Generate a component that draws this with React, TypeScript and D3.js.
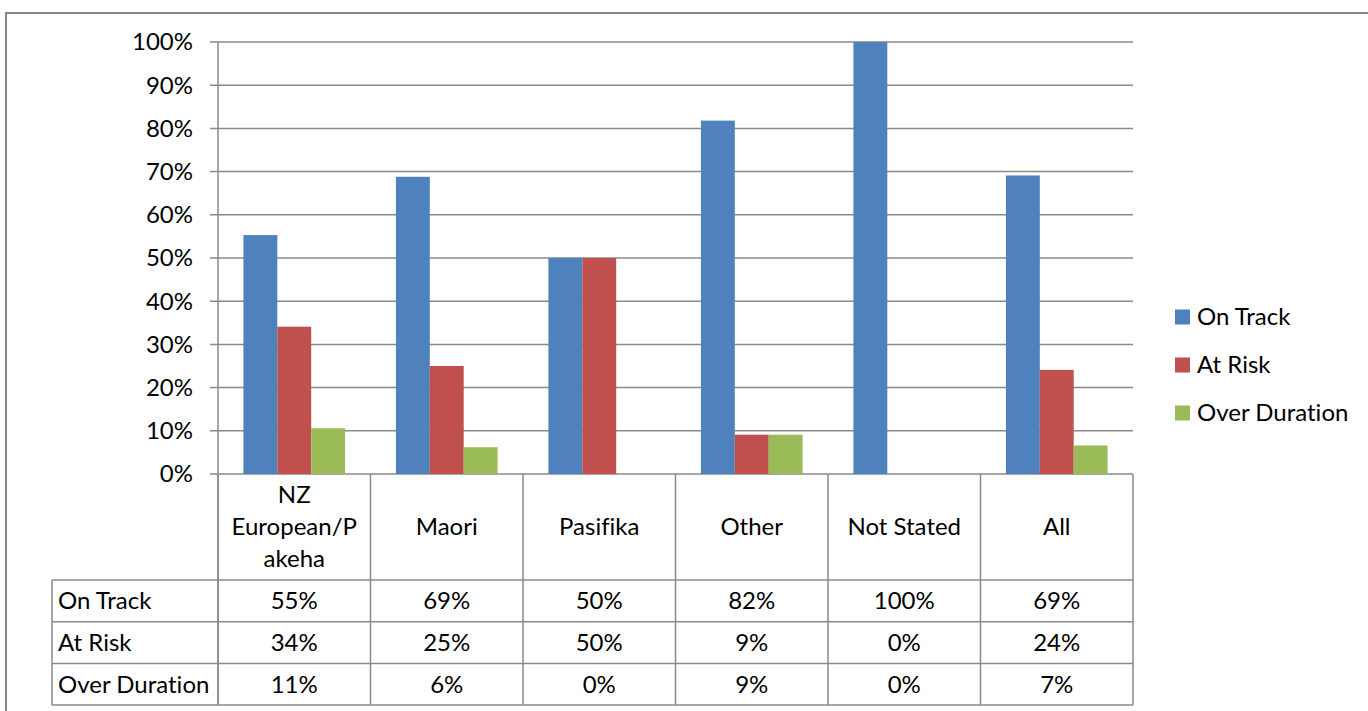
import React from "react";
import * as d3 from "d3";

// Categories and series
const categories: string[][] = [
  ["NZ", "European/P", "akeha"],
  ["Maori"],
  ["Pasifika"],
  ["Other"],
  ["Not Stated"],
  ["All"],
];
const seriesNames = ["On Track", "At Risk", "Over Duration"];
const seriesColors = ["#4F81BD", "#C0504D", "#9BBB59"];
const onTrack = [0.553, 0.688, 0.5, 0.818, 1.0, 0.691];
const atRisk = [0.341, 0.25, 0.5, 0.091, 0, 0.241];
const overDuration = [0.106, 0.062, 0, 0.091, 0, 0.066];
const yTicks = [0, 0.1, 0.2, 0.3, 0.4, 0.5, 0.6, 0.7, 0.8, 0.9, 1.0];

const W = 1368;
const H = 711;
const FONT = "Lato, 'Open Sans', sans-serif";
const FS = 24;
const GRID = "#8A8A8A";

export default function App() {
  const series = [onTrack, atRisk, overDuration];
  const left = 218;
  const right = 1133;
  const top = 42;
  const bottom = 474;

  const x = d3
    .scaleBand<number>()
    .domain(d3.range(categories.length))
    .range([left, right])
    .padding(0);
  const xs = d3
    .scaleBand<number>()
    .domain(d3.range(series.length))
    .range([0, x.bandwidth()])
    .paddingInner(0)
    .paddingOuter(0.75);
  const y = d3.scaleLinear().domain([0, 1]).range([bottom, top]);
  const fmt = d3.format(".0%");

  // data table geometry
  const headerBottom = 580;
  const rowH = 41.7;
  const tableLeft = 52;
  const tableBottom = headerBottom + rowH * series.length;
  const boundaries = d3.range(categories.length + 1).map((i) =>
    i < categories.length ? (x(i) as number) : right
  );

  return (
    <svg
      width={W}
      height={H}
      style={{
        position: "absolute",
        left: 0,
        top: 0,
        background: "#fff",
        fontVariantLigatures: "none",
      }}
      fontFamily={FONT}
      fontSize={FS}
    >
      {/* chart frame */}
      <rect x={6} y={13} width={1500} height={900} fill="#fff" stroke="#878787" strokeWidth={2} />

      {/* gridlines and y ticks */}
      {yTicks.map((t) => (
        <g key={t}>
          <line x1={left - 8} x2={right} y1={y(t)} y2={y(t)} stroke={GRID} strokeWidth={1.5} />
          <text x={193} y={y(t)} dy="0.35em" textAnchor="end" fill="#000">
            {fmt(t)}
          </text>
        </g>
      ))}
      <line x1={left} x2={left} y1={top} y2={tableBottom} stroke={GRID} strokeWidth={1.5} />

      {/* bars */}
      {series.map((vals, si) =>
        vals.map((v, ci) => (
          <rect
            key={`${si}-${ci}`}
            x={(x(ci) as number) + (xs(si) as number)}
            y={y(v)}
            width={xs.bandwidth()}
            height={bottom - y(v)}
            fill={seriesColors[si]}
          />
        ))
      )}

      {/* data table */}
      {boundaries.map((bx, i) => (
        <line key={i} x1={bx} x2={bx} y1={bottom} y2={tableBottom} stroke={GRID} strokeWidth={1.5} />
      ))}
      <line x1={tableLeft} x2={tableLeft} y1={headerBottom} y2={tableBottom} stroke={GRID} strokeWidth={1.5} />
      {d3.range(series.length + 1).map((r) => (
        <line
          key={r}
          x1={tableLeft}
          x2={right}
          y1={headerBottom + r * rowH}
          y2={headerBottom + r * rowH}
          stroke={GRID}
          strokeWidth={1.5}
        />
      ))}
      {categories.map((lines, ci) => {
        const cx = (x(ci) as number) + x.bandwidth() / 2;
        const mid = (bottom + headerBottom) / 2;
        const lh = 32;
        return (
          <text key={ci} x={cx} textAnchor="middle" fill="#000">
            {lines.map((ln, li) => (
              <tspan key={li} x={cx} y={mid + (li - (lines.length - 1) / 2) * lh} dy="0.35em">
                {ln}
              </tspan>
            ))}
          </text>
        );
      })}
      {series.map((vals, si) => {
        const cy = headerBottom + (si + 0.5) * rowH;
        return (
          <g key={si}>
            <text x={58} y={cy} dy="0.35em" fill="#000">
              {seriesNames[si]}
            </text>
            {vals.map((v, ci) => (
              <text
                key={ci}
                x={(x(ci) as number) + x.bandwidth() / 2}
                y={cy}
                dy="0.35em"
                textAnchor="middle"
                fill="#000"
              >
                {fmt(v)}
              </text>
            ))}
          </g>
        );
      })}

      {/* legend */}
      {seriesNames.map((name, i) => {
        const ly = 317 + i * 48;
        return (
          <g key={name}>
            <rect x={1175} y={ly - 7.5} width={15} height={15} fill={seriesColors[i]} />
            <text x={1197} y={ly} dy="0.35em" fill="#000">
              {name}
            </text>
          </g>
        );
      })}
    </svg>
  );
}
